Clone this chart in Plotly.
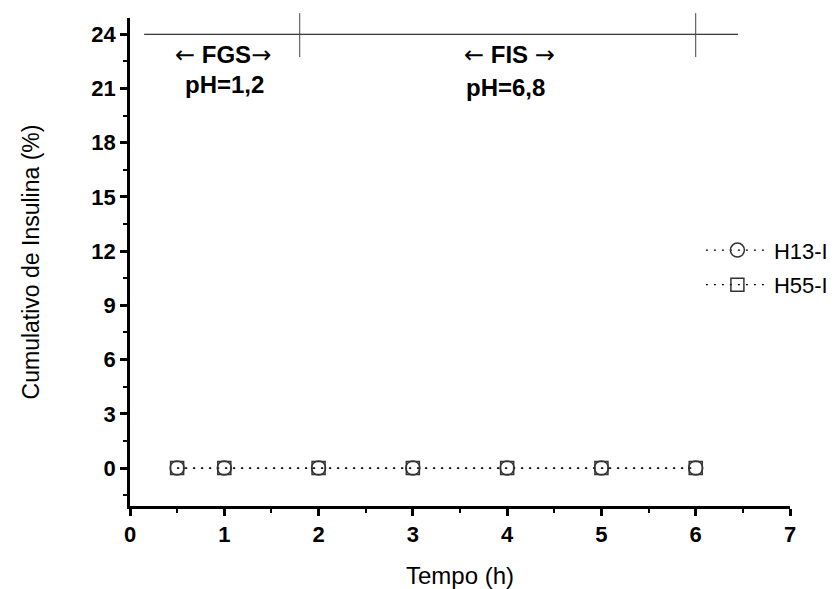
import plotly.graph_objects as go

tempo = [0.5, 1, 2, 3, 4, 5, 6]
h13_i = [0, 0, 0, 0, 0, 0, 0]
h55_i = [0, 0, 0, 0, 0, 0, 0]
series_names = ["H13-I", "H55-I"]

phase_y = 24
phase_start, phase_end = 0.15, 6.45
phase_marks = [1.8, 6]

FONT = "Liberation Sans, Arial, sans-serif"
MC = "#333333"
DOT = "2px,6px"

fig = go.Figure()
fig.add_trace(go.Scatter(
    x=tempo, y=h13_i, name=series_names[0], mode="lines+markers",
    line=dict(color="black", width=1.2, dash=DOT),
    marker=dict(symbol="circle-open", size=14, color=MC, line=dict(width=1.5, color=MC)),
    legendgroup="a", cliponaxis=False))
fig.add_trace(go.Scatter(
    x=tempo, y=h55_i, name=series_names[1], mode="lines+markers",
    line=dict(color="black", width=1.2, dash=DOT),
    marker=dict(symbol="square-open", size=13, color=MC, line=dict(width=1.5, color=MC)),
    legendgroup="b", cliponaxis=False))

# phase bar
fig.add_shape(type="line", xref="x", yref="y", x0=phase_start, x1=phase_end,
              y0=phase_y, y1=phase_y, line=dict(color="black", width=1))
for xm in phase_marks:
    fig.add_shape(type="line", xref="x", yref="paper", x0=xm, x1=xm,
                  y0=0.92, y1=1.01, line=dict(color="#444", width=1))

ann_font = dict(family=FONT, size=24, color="black", weight="bold")
LA = '<span style="font-family:DejaVu Sans;font-weight:normal">←</span>'
RA = '<span style="font-family:DejaVu Sans;font-weight:normal">→</span>'
fig.add_annotation(x=0.99, y=22.85, xref="x", yref="y", text=f"{LA} FGS{RA}",
                   showarrow=False, font=ann_font)
fig.add_annotation(x=1.0, y=21.2, xref="x", yref="y", text="pH=1,2",
                   showarrow=False, font=ann_font)
fig.add_annotation(x=4.02, y=22.85, xref="x", yref="y", text=f"{LA} FIS {RA}",
                   showarrow=False, font=ann_font)
fig.add_annotation(x=3.98, y=21.05, xref="x", yref="y", text="pH=6,8",
                   showarrow=False, font=ann_font)

tick_font = dict(family=FONT, size=22, color="black", weight="bold")
fig.update_xaxes(
    range=[0, 7], tickvals=[0, 1, 2, 3, 4, 5, 6, 7], showline=True, linewidth=2.5,
    linecolor="black", ticks="outside", ticklen=7, tickwidth=2.5, tickcolor="black",
    minor=dict(ticks="outside", ticklen=4, tickwidth=2, tickcolor="black", dtick=0.5),
    showgrid=False, zeroline=False, tickfont=tick_font, automargin=False,
    title=dict(text="Tempo (h)", font=dict(family=FONT, size=24, color="black"), standoff=22))
fig.update_yaxes(
    range=[-2.1, 24.9], tickvals=[0, 3, 6, 9, 12, 15, 18, 21, 24], showline=True, linewidth=2.5,
    linecolor="black", ticks="outside", ticklen=7, tickwidth=2.5, tickcolor="black",
    minor=dict(ticks="outside", ticklen=4, tickwidth=2, tickcolor="black", dtick=1.5),
    showgrid=False, zeroline=False, tickfont=tick_font, automargin=False,
    title=dict(text="Cumulativo de Insulina (%)", font=dict(family=FONT, size=23, color="black"), standoff=46))

fig.update_layout(
    width=838, height=589, plot_bgcolor="white", paper_bgcolor="white",
    margin=dict(l=130, r=48, t=18, b=83, autoexpand=False),
    legend=dict(x=0.865, y=0.567, xanchor="left", yanchor="top", bgcolor="rgba(0,0,0,0)",
                font=dict(family=FONT, size=22, color="black"), tracegroupgap=3,
                traceorder="grouped", itemwidth=63),
)
fig.write_html("out.html")
